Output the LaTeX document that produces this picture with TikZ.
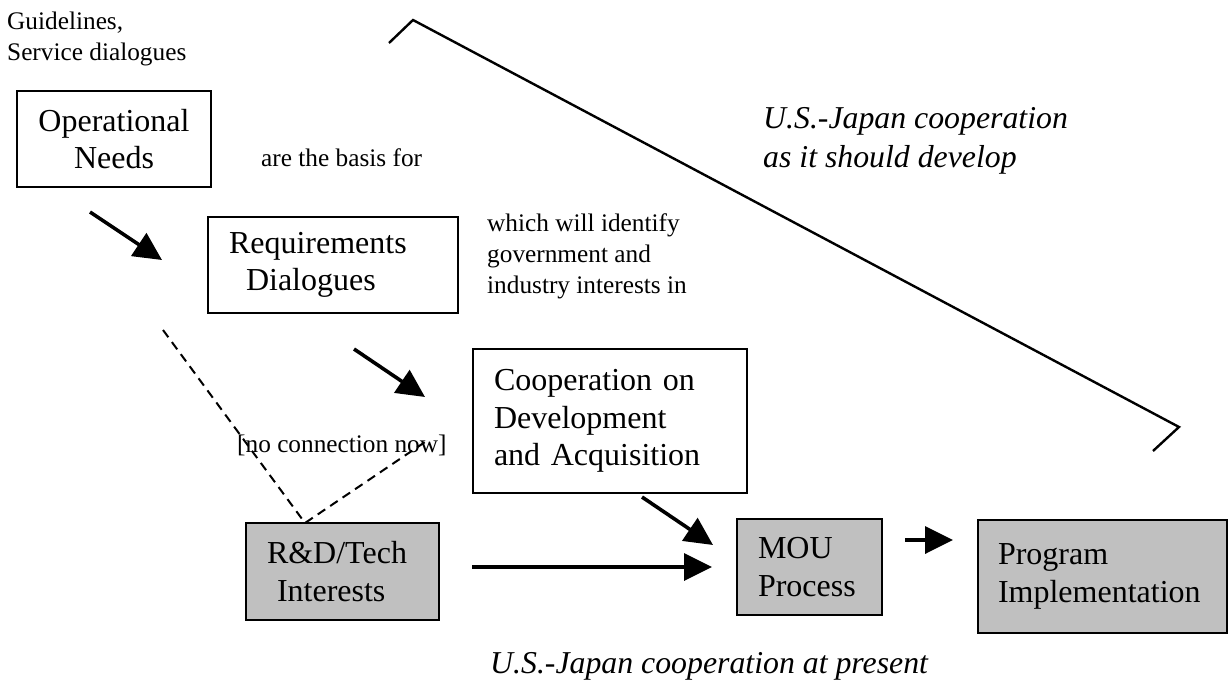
\documentclass[tikz,border=0pt]{standalone}
\usepackage{fontspec}
\setmainfont{Liberation Serif}
\usetikzlibrary{arrows.meta}
\definecolor{boxgray}{RGB}{192,192,192}
\tikzset{
 every node/.style={inner sep=0pt},
 flowbox/.style={draw, line width=2pt, rectangle, align=left, font=\fontsize{32}{37.5}\selectfont, inner ysep=0pt},
 grayfill/.style={fill=boxgray},
 note/.style={anchor=base west, align=left, font=\fontsize{25.3}{31}\selectfont},
 itnote/.style={anchor=base west, align=left, font=\fontsize{31.8}{38.5}\selectfont\itshape},
 flow/.style={line width=3.6pt, -{Triangle[length=28pt,width=27pt]}},
 noconn/.style={line width=2pt, dash pattern=on 9pt off 6pt},
 bracketline/.style={line width=2.4pt},
}
\begin{document}
\begin{tikzpicture}[x=1pt,y=-1pt]
\useasboundingbox (0,0) rectangle (1228,682);

% boxes
\node[flowbox, align=center, minimum width=194pt, minimum height=96pt, text width=174pt, inner xsep=10pt] (op) at (114,139) {Operational\\Needs};
\node[flowbox, minimum width=250pt, minimum height=96pt, text width=208pt, inner xsep=21pt] (req) at (333,265) {Requirements\\\hspace*{17pt}Dialogues};
\node[flowbox, minimum width=274pt, minimum height=144pt, text width=232pt, inner xsep=21pt] (coop) at (610,421) {Cooperation on\\Development\\and Acquisition};
\node[flowbox, grayfill, minimum width=193pt, minimum height=97pt, text width=151pt, inner xsep=21pt] (rd) at (342.5,571.5) {R\&D/Tech\\\hspace*{10pt}Interests};
\node[flowbox, grayfill, minimum width=145pt, minimum height=96pt, text width=103pt, inner xsep=21pt] (mou) at (809.5,567) {MOU\\Process};
\node[flowbox, grayfill, minimum width=249pt, minimum height=113pt, text width=209pt, inner xsep=20pt] (prog) at (1102.5,576.5) {Program\\Implementation};

% notes (base = baseline of last line)
\node[note] (guide) at (7,61) {Guidelines,\\Service dialogues};
\node[note] (basis) at (261,166) {are the basis for};
\node[note] (ident) at (487,293) {which will identify\\government and\\industry interests in};
\node[note] (noconnlbl) at (237,452) {[no connection now]};
\node[itnote] (should) at (763,167) {U.S.-Japan cooperation\\as it should develop};
\node[itnote] (present) at (490,673) {U.S.-Japan cooperation at present};

% bracket
\coordinate (bt) at (413,20);
\coordinate (btk) at (389,43);
\coordinate (bb) at (1179,427);
\coordinate (bbk) at (1153,451);
\draw[bracketline] (btk) -- (bt) -- (bb) -- (bbk);

% arrows
\coordinate (a1s) at (90,212);  \coordinate (a1e) at (162,260);
\coordinate (a2s) at (354,349); \coordinate (a2e) at (425,397);
\coordinate (a3s) at (642,497); \coordinate (a3e) at (713,545);
\coordinate (a4s) at (472,567); \coordinate (a4e) at (712,567);
\coordinate (a5s) at (905,540); \coordinate (a5e) at (953,540);
\draw[flow] (a1s) -- (a1e);
\draw[flow] (a2s) -- (a2e);
\draw[flow] (a3s) -- (a3e);
\draw[flow] (a4s) -- (a4e);
\draw[flow] (a5s) -- (a5e);

% dashed
\coordinate (rdtop) at (305,523);
\coordinate (d1e) at (163,330);
\coordinate (d2e) at (428,440);
\draw[noconn] (d1e) -- (rdtop) -- (d2e);
\end{tikzpicture}
\end{document}
